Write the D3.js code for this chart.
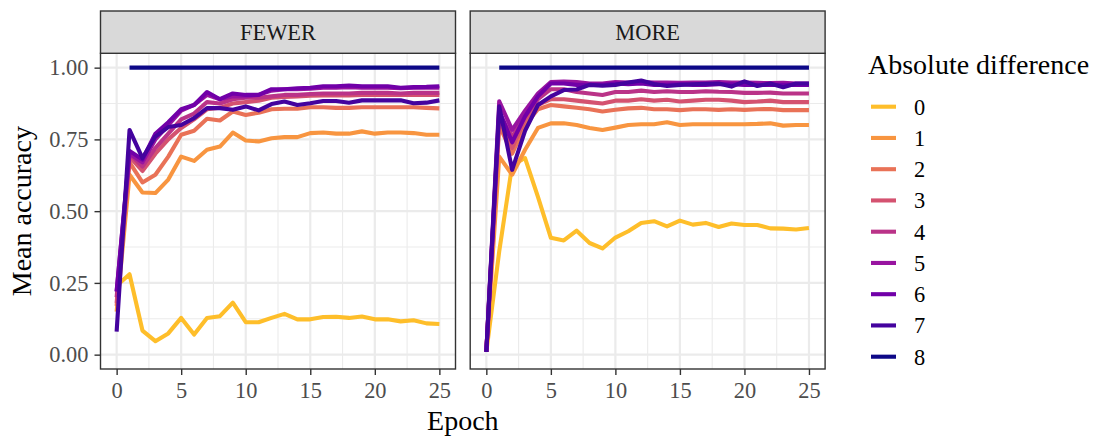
<!DOCTYPE html>
<html><head><meta charset="utf-8">
<script src="https://cdn.jsdelivr.net/npm/d3@7"></script>
<style>body{margin:0;background:#fff}svg{display:block}</style>
</head><body>
<script>
const epochs = [0,1,2,3,4,5,6,7,8,9,10,11,12,13,14,15,16,17,18,19,20,21,22,23,24,25];
const groups = ["0","1","2","3","4","5","6","7","8"];
const facets = ["FEWER","MORE"];
const xTicks = [0,5,10,15,20,25];
const yTicks = [0,0.25,0.5,0.75,1];
const yTickLabels = ["0.00","0.25","0.50","0.75","1.00"];

const fewer0 = [0.24,0.28,0.084,0.047,0.074,0.128,0.07,0.128,0.134,0.181,0.113,0.113,0.128,0.142,0.123,0.123,0.131,0.132,0.128,0.133,0.123,0.123,0.116,0.12,0.109,0.107];
const fewer1 = [0.15,0.627,0.565,0.563,0.61,0.69,0.675,0.714,0.725,0.774,0.746,0.743,0.754,0.758,0.758,0.772,0.774,0.77,0.77,0.778,0.77,0.774,0.774,0.772,0.766,0.766];
const fewer2 = [0.17,0.67,0.60,0.627,0.69,0.766,0.78,0.822,0.816,0.847,0.835,0.843,0.855,0.857,0.857,0.862,0.862,0.86,0.86,0.862,0.862,0.862,0.862,0.862,0.86,0.858];
const fewer3 = [0.18,0.69,0.64,0.70,0.75,0.79,0.82,0.855,0.86,0.875,0.88,0.885,0.895,0.898,0.9,0.902,0.903,0.903,0.903,0.905,0.905,0.905,0.905,0.905,0.905,0.905];
const fewer4 = [0.2,0.70,0.655,0.72,0.77,0.82,0.84,0.88,0.875,0.89,0.895,0.895,0.90,0.905,0.905,0.908,0.91,0.91,0.91,0.912,0.912,0.912,0.91,0.912,0.912,0.912];
const fewer5 = [0.22,0.70,0.67,0.75,0.80,0.85,0.87,0.905,0.89,0.90,0.90,0.905,0.92,0.925,0.925,0.927,0.93,0.93,0.932,0.93,0.93,0.93,0.928,0.93,0.93,0.93];
const fewer6 = [0.22,0.71,0.68,0.77,0.81,0.855,0.87,0.915,0.89,0.91,0.905,0.905,0.925,0.925,0.928,0.93,0.935,0.935,0.938,0.935,0.935,0.935,0.93,0.932,0.933,0.935];
const fewer7 = [0.08,0.783,0.685,0.76,0.793,0.80,0.824,0.859,0.859,0.853,0.865,0.851,0.873,0.882,0.87,0.876,0.884,0.884,0.878,0.886,0.886,0.886,0.886,0.876,0.878,0.886];
const fewer8 = [null,1,1,1,1,1,1,1,1,1,1,1,1,1,1,1,1,1,1,1,1,1,1,1,1,1];

const more0 = [0.01,0.36,0.66,0.685,0.55,0.407,0.398,0.432,0.389,0.37,0.408,0.43,0.459,0.465,0.447,0.467,0.453,0.459,0.445,0.457,0.452,0.452,0.44,0.439,0.436,0.441];
const more1 = [0.01,0.69,0.627,0.714,0.79,0.806,0.806,0.80,0.79,0.783,0.791,0.80,0.803,0.803,0.81,0.80,0.803,0.803,0.803,0.803,0.803,0.804,0.806,0.798,0.8,0.8];
const more2 = [0.01,0.80,0.70,0.80,0.855,0.87,0.865,0.86,0.855,0.847,0.853,0.858,0.86,0.855,0.855,0.852,0.855,0.855,0.853,0.855,0.853,0.855,0.856,0.852,0.852,0.852];
const more3 = [0.01,0.82,0.72,0.82,0.87,0.89,0.89,0.885,0.88,0.875,0.885,0.885,0.89,0.885,0.888,0.882,0.885,0.888,0.888,0.885,0.88,0.882,0.885,0.88,0.88,0.88];
const more4 = [0.01,0.84,0.76,0.83,0.89,0.925,0.925,0.915,0.91,0.905,0.915,0.915,0.92,0.915,0.918,0.915,0.915,0.918,0.916,0.915,0.912,0.912,0.913,0.91,0.91,0.91];
const more5 = [0.01,0.883,0.783,0.85,0.91,0.95,0.952,0.95,0.945,0.945,0.95,0.948,0.95,0.948,0.948,0.947,0.948,0.948,0.95,0.948,0.948,0.947,0.946,0.947,0.945,0.945];
const more6 = [0.01,0.85,0.74,0.83,0.90,0.945,0.945,0.94,0.94,0.94,0.945,0.942,0.945,0.94,0.94,0.942,0.94,0.94,0.942,0.942,0.94,0.94,0.94,0.94,0.94,0.94];
const more7 = [0.01,0.865,0.644,0.78,0.87,0.90,0.922,0.924,0.94,0.937,0.94,0.948,0.955,0.943,0.936,0.94,0.942,0.944,0.945,0.934,0.952,0.936,0.945,0.932,0.945,0.945];
const more8 = [null,1,1,1,1,1,1,1,1,1,1,1,1,1,1,1,1,1,1,1,1,1,1,1,1,1];

const seriesByFacet = {
  FEWER: [fewer0,fewer1,fewer2,fewer3,fewer4,fewer5,fewer6,fewer7,fewer8],
  MORE:  [more0,more1,more2,more3,more4,more5,more6,more7,more8]
};

const W = 1101, H = 436;
const FONT = "'Liberation Serif','DejaVu Serif',serif";
const svg = d3.select("body").append("svg").attr("width", W).attr("height", H);
svg.append("rect").attr("width", W).attr("height", H).attr("fill", "#fff");

const color = d3.scaleOrdinal().domain(groups)
  .range(groups.map((g,i) => d3.interpolatePlasma(0.86 * (groups.length - 1 - i) / (groups.length - 1))));

const panelTop = 53.3, panelBottom = 369, stripTop = 11;
const panels = [{name:"FEWER", x0:100.5, x1:455.5}, {name:"MORE", x0:470.2, x1:825.1}];
const y = d3.scaleLinear().domain([-0.05, 1.05]).range([panelBottom, panelTop]);
const LW = 4.1;

panels.forEach((p, pi) => {
  const x = d3.scaleLinear().domain([-1.25, 26.25]).range([p.x0, p.x1]);
  const g = svg.append("g");
  g.append("rect").attr("x", p.x0).attr("y", panelTop).attr("width", p.x1 - p.x0)
    .attr("height", panelBottom - panelTop).attr("fill", "#fff");
  const xMinor = [2.5,7.5,12.5,17.5,22.5];
  const yMinor = [0.125,0.375,0.625,0.875];
  g.selectAll(".xm").data(xMinor).join("line")
    .attr("x1", d => x(d)).attr("x2", d => x(d)).attr("y1", panelTop).attr("y2", panelBottom)
    .attr("stroke", "#EBEBEB").attr("stroke-width", 1.1);
  g.selectAll(".ym").data(yMinor).join("line")
    .attr("x1", p.x0).attr("x2", p.x1).attr("y1", d => y(d)).attr("y2", d => y(d))
    .attr("stroke", "#EBEBEB").attr("stroke-width", 1.1);
  g.selectAll(".xg").data(xTicks).join("line")
    .attr("x1", d => x(d)).attr("x2", d => x(d)).attr("y1", panelTop).attr("y2", panelBottom)
    .attr("stroke", "#EBEBEB").attr("stroke-width", 2.2);
  g.selectAll(".yg").data(yTicks).join("line")
    .attr("x1", p.x0).attr("x2", p.x1).attr("y1", d => y(d)).attr("y2", d => y(d))
    .attr("stroke", "#EBEBEB").attr("stroke-width", 2.2);

  const line = d3.line().defined(d => d.v !== null).x(d => x(d.e)).y(d => y(d.v)).curve(d3.curveLinear);
  seriesByFacet[p.name].forEach((vals, gi) => {
    const pts = epochs.map((e, k) => ({e, v: vals[k]}));
    g.append("path").attr("d", line(pts)).attr("fill", "none")
      .attr("stroke", color(groups[gi])).attr("stroke-width", LW)
      .attr("stroke-linejoin", "round");
  });

  g.append("rect").attr("x", p.x0).attr("y", panelTop).attr("width", p.x1 - p.x0)
    .attr("height", panelBottom - panelTop).attr("fill", "none").attr("stroke", "#333333").attr("stroke-width", 1.4);

  g.append("rect").attr("x", p.x0).attr("y", stripTop).attr("width", p.x1 - p.x0)
    .attr("height", panelTop - stripTop).attr("fill", "#D9D9D9").attr("stroke", "#333333").attr("stroke-width", 1.4);
  g.append("text").attr("x", (p.x0 + p.x1) / 2).attr("y", (stripTop + panelTop) / 2).attr("dy", "0.35em")
    .attr("text-anchor", "middle").attr("font-family", FONT).attr("font-size", 22.4)
    .attr("fill", "#1A1A1A").text(p.name);

  const xa = svg.append("g").attr("transform", `translate(0,${panelBottom})`)
    .call(d3.axisBottom(x).tickValues(xTicks).tickSize(6).tickPadding(7).tickFormat(d3.format("d")));
  xa.select(".domain").remove();
  xa.selectAll(".tick line").attr("stroke", "#333333").attr("stroke-width", 1.4);
  xa.selectAll(".tick text").attr("font-family", FONT).attr("font-size", 22.4).attr("fill", "#4D4D4D");

  if (pi === 0) {
    const ya = svg.append("g").attr("transform", `translate(${p.x0},0)`)
      .call(d3.axisLeft(y).tickValues(yTicks).tickSize(6).tickPadding(6)
        .tickFormat((d, i) => yTickLabels[i]));
    ya.select(".domain").remove();
    ya.selectAll(".tick line").attr("stroke", "#333333").attr("stroke-width", 1.4);
    ya.selectAll(".tick text").attr("font-family", FONT).attr("font-size", 22.4).attr("fill", "#4D4D4D");
  }
});

svg.append("text").attr("x", (panels[0].x0 + panels[1].x1) / 2).attr("y", 430)
  .attr("text-anchor", "middle").attr("font-family", FONT).attr("font-size", 28).attr("fill", "#000").text("Epoch");
svg.append("text").attr("transform", `translate(31,${(panelTop + panelBottom) / 2}) rotate(-90)`)
  .attr("text-anchor", "middle").attr("font-family", FONT).attr("font-size", 28).attr("fill", "#000").text("Mean accuracy");

const lg = svg.append("g");
lg.append("text").attr("x", 868).attr("y", 73.5).attr("font-family", FONT).attr("font-size", 28)
  .attr("fill", "#000").text("Absolute difference");
groups.forEach((gname, i) => {
  const cy = 106.7 + 31.25 * i;
  lg.append("line").attr("x1", 871).attr("x2", 896).attr("y1", cy).attr("y2", cy)
    .attr("stroke", color(gname)).attr("stroke-width", LW);
  lg.append("text").attr("x", 914).attr("y", cy).attr("dy", "0.35em").attr("font-family", FONT)
    .attr("font-size", 22.4).attr("fill", "#000").text(gname);
});
</script>
</body></html>
